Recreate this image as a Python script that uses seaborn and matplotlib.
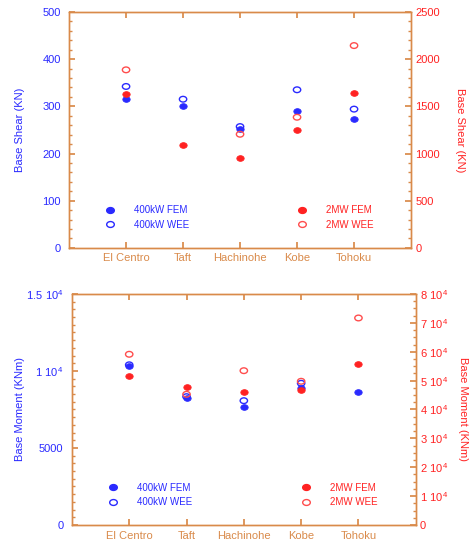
import numpy as np
import pandas as pd
import matplotlib
matplotlib.use("Agg")
import matplotlib.pyplot as plt
import matplotlib.path as mpath
from matplotlib.ticker import MultipleLocator, FuncFormatter
from matplotlib.lines import Line2D
import seaborn as sns

# -- data --
quakes = ["El Centro", "Taft", "Hachinohe", "Kobe", "Tohoku"]

shear_400_fem = [316, 301, 251, 290, 273]
shear_400_wee = [342, 315, 257, 335, 294]
shear_2mw_fem = [1628, 1094, 950, 1253, 1639]
shear_2mw_wee = [1886, np.nan, 1204, 1384, 2143]

moment_400_fem = [10344, 8227, 7682, 8877, 8617]
moment_400_wee = [10400, 8333, 8071, 9200, np.nan]
moment_2mw_fem = [51706, 47896, 46165, 46753, 55862]
moment_2mw_wee = [59117, 45264, 53437, 49766, 71688]

BLUE = "#2a2aff"
RED = "#ff2222"
RED_OPEN = "#ff4d4d"
ORANGE = "#d98a4a"

sns.set_theme(style="white")
plt.rcParams['font.family'] = ['Liberation Sans', 'DejaVu Sans']
plt.rcParams['mathtext.default'] = 'regular'
FS = 8

# flattened ellipse marker
circ = mpath.Path.unit_circle()
ell = mpath.Path(circ.vertices * np.array([1.3, 1.0]), circ.codes)


def draw(ax, vals, color, filled):
    df = pd.DataFrame({"eq": quakes, "v": vals})
    if filled:
        sns.scatterplot(data=df, x="eq", y="v", ax=ax, marker=ell, s=28,
                        color=color, edgecolor=color, linewidth=0.6, zorder=3)
    else:
        sns.scatterplot(data=df, x="eq", y="v", ax=ax, marker=ell, s=28,
                        facecolor="none", edgecolor=color, linewidth=1.0, zorder=3)


def style_axes(ax, ax2):
    for a in (ax, ax2):
        for sp in a.spines.values():
            sp.set_color(ORANGE)
            sp.set_linewidth(1.0)
        a.set_xlabel("")
    ax.set_xlim(-1, 5)
    ax.tick_params(axis="x", which="both", direction="in", top=True, bottom=True,
                   colors=ORANGE, labelcolor=ORANGE, labelsize=FS, length=4, pad=4)
    ax.tick_params(axis="y", which="both", direction="in", left=True, right=False,
                   color=ORANGE, labelcolor=BLUE, labelsize=FS, pad=6)
    ax.tick_params(axis="y", which="major", length=4)
    ax.tick_params(axis="y", which="minor", length=2)
    ax2.tick_params(axis="y", which="both", direction="in", left=False, right=True,
                    color=ORANGE, labelcolor=RED, labelsize=FS, pad=3)
    ax2.tick_params(axis="y", which="major", length=4)
    ax2.tick_params(axis="y", which="minor", length=2)
    ax2.tick_params(axis="x", which="both", top=False, bottom=False)


def legends(ax, ax2, y):
    h_blue = [Line2D([], [], ls="none", marker=ell, ms=5.5, color=BLUE, mec=BLUE),
              Line2D([], [], ls="none", marker=ell, ms=5.5, mfc="none", mec=BLUE)]
    h_red = [Line2D([], [], ls="none", marker=ell, ms=5.5, color=RED, mec=RED),
             Line2D([], [], ls="none", marker=ell, ms=5.5, mfc="none", mec=RED_OPEN)]
    lg = ax.legend(h_blue, ["400kW FEM", "400kW WEE"], loc="lower left",
                   bbox_to_anchor=(0.08, y), frameon=False, fontsize=7,
                   handlelength=1.0, handletextpad=2.0, labelspacing=0.45)
    for t in lg.get_texts():
        t.set_color(BLUE)
    lg2 = ax2.legend(h_red, ["2MW FEM", "2MW WEE"], loc="lower left",
                     bbox_to_anchor=(0.64, y), frameon=False, fontsize=7,
                     handlelength=1.0, handletextpad=2.0, labelspacing=0.45)
    for t in lg2.get_texts():
        t.set_color(RED)


fig = plt.figure(figsize=(4.73, 5.39), dpi=100)

# -- top: base shear --
ax = fig.add_axes([0.146, 0.540, 0.723, 0.438])
ax2 = ax.twinx()
draw(ax, shear_400_fem, BLUE, True)
draw(ax, shear_400_wee, BLUE, False)
draw(ax2, shear_2mw_fem, RED, True)
draw(ax2, shear_2mw_wee, RED_OPEN, False)
ax.set_ylim(0, 500)
ax2.set_ylim(0, 2500)
ax.yaxis.set_major_locator(MultipleLocator(100))
ax.yaxis.set_minor_locator(MultipleLocator(20))
ax2.yaxis.set_major_locator(MultipleLocator(500))
ax2.yaxis.set_minor_locator(MultipleLocator(100))
style_axes(ax, ax2)
ax.set_ylabel("Base Shear (KN)", color=BLUE, fontsize=FS)
ax2.set_ylabel("Base Shear (KN)", color=RED, fontsize=FS, rotation=270)
ax.yaxis.set_label_coords(-0.129, 0.5)
ax2.yaxis.set_label_coords(1.158, 0.5)
legends(ax, ax2, 0.04)

# -- bottom: base moment --
bx = fig.add_axes([0.152, 0.026, 0.727, 0.4286])
bx2 = bx.twinx()
draw(bx, moment_400_fem, BLUE, True)
draw(bx, moment_400_wee, BLUE, False)
draw(bx2, moment_2mw_fem, RED, True)
draw(bx2, moment_2mw_wee, RED_OPEN, False)
bx.set_ylim(0, 15000)
bx2.set_ylim(0, 80000)
bx.yaxis.set_major_locator(MultipleLocator(5000))
bx.yaxis.set_minor_locator(MultipleLocator(500))
bx2.yaxis.set_major_locator(MultipleLocator(10000))
bx2.yaxis.set_minor_locator(MultipleLocator(2500))


def sci_fmt(v, pos):
    if v == 0:
        return "0"
    if v < 10000:
        return f"{v:.0f}"
    m = v / 10000
    ms = f"{m:g}"
    return rf"${ms}\ 10^{{4}}$"


bx.yaxis.set_major_formatter(FuncFormatter(sci_fmt))
bx2.yaxis.set_major_formatter(FuncFormatter(sci_fmt))
style_axes(bx, bx2)
bx.set_ylabel("Base Moment (KNm)", color=BLUE, fontsize=FS)
bx2.set_ylabel("Base Moment (KNm)", color=RED, fontsize=FS, rotation=270)
bx.yaxis.set_label_coords(-0.137, 0.5)
bx2.yaxis.set_label_coords(1.153, 0.5)
legends(bx, bx2, 0.04)

fig.savefig("out.png", dpi=100)
